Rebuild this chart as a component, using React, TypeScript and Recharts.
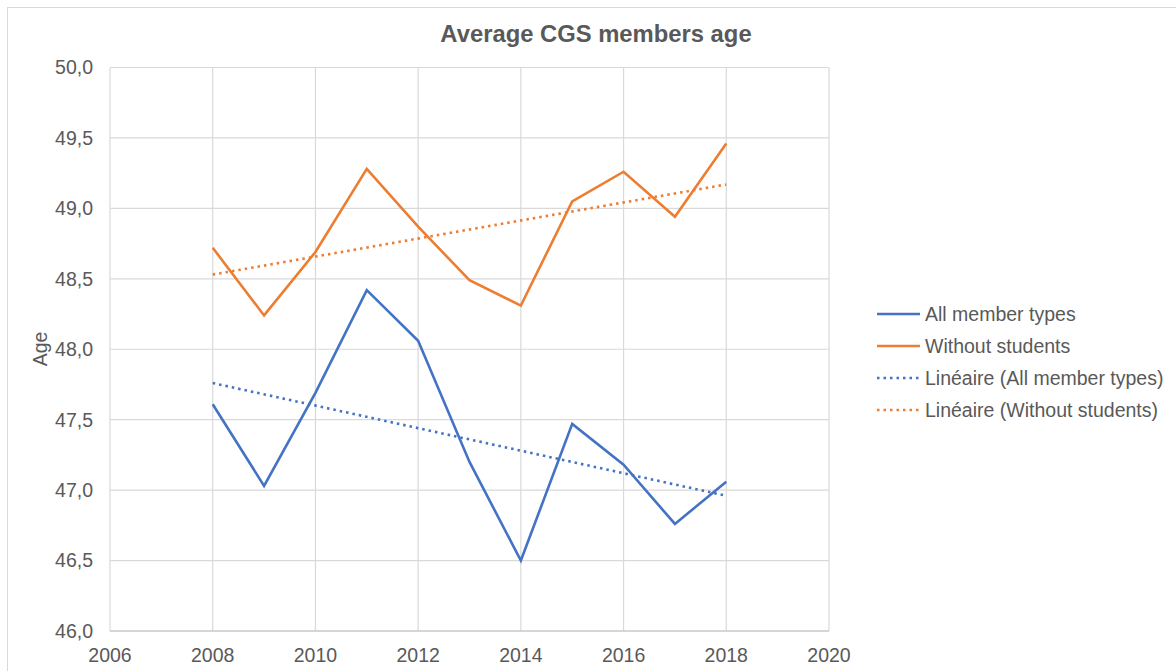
import React from 'react';
import { LineChart, Line, XAxis, YAxis, CartesianGrid, Legend, Label } from 'recharts';

const years = [2008, 2009, 2010, 2011, 2012, 2013, 2014, 2015, 2016, 2017, 2018];
const allMemberTypes = [47.61, 47.03, 47.69, 48.42, 48.06, 47.2, 46.5, 47.47, 47.18, 46.76, 47.06];
const withoutStudents = [48.72, 48.24, 48.69, 49.28, 48.87, 48.49, 48.31, 49.05, 49.26, 48.94, 49.46];
const trendYears = [2008, 2018];
const trendAll = [47.76, 46.96];
const trendWithout = [48.53, 49.17];
const xTicks = [2006, 2008, 2010, 2012, 2014, 2016, 2018, 2020];
const yTicks = [46, 46.5, 47, 47.5, 48, 48.5, 49, 49.5, 50];

const BLUE = '#4472C4';
const ORANGE = '#ED7D31';
const TEXT = '#595959';
const FONT = '"Liberation Sans", Arial, sans-serif';

const mainData = years.map((y, i) => ({ year: y, all: allMemberTypes[i], without: withoutStudents[i] }));
const trendAllData = trendYears.map((y, i) => ({ year: y, v: trendAll[i] }));
const trendWithoutData = trendYears.map((y, i) => ({ year: y, v: trendWithout[i] }));

const legendItems = [
  { label: 'All member types', color: BLUE, dotted: false },
  { label: 'Without students', color: ORANGE, dotted: false },
  { label: 'Linéaire (All member types)', color: BLUE, dotted: true },
  { label: 'Linéaire (Without students)', color: ORANGE, dotted: true },
];

const LegendContent = () => (
  <div style={{ fontFamily: FONT, fontSize: 19.5, color: TEXT }}>
    {legendItems.map((it) => (
      <div key={it.label} style={{ display: 'flex', alignItems: 'center', height: 32, whiteSpace: 'nowrap' }}>
        <svg width={49} height={10} style={{ flex: 'none' }}>
          <line
            x1={1}
            y1={5}
            x2={44}
            y2={5}
            stroke={it.color}
            strokeWidth={2.5}
            strokeDasharray={it.dotted ? '2.5 4' : undefined}
          />
        </svg>
        <span>{it.label}</span>
      </div>
    ))}
  </div>
);

const fmt = (v: number) => v.toFixed(1).replace('.', ',');

export default function App() {
  return (
    <div style={{ position: 'absolute', left: 0, top: 0, width: 1176, height: 671, background: '#fff', fontFamily: FONT }}>
      <div
        style={{
          position: 'absolute',
          left: 7,
          top: 7,
          width: 1176,
          height: 680,
          border: '1px solid #d9d9d9',
          boxSizing: 'border-box',
        }}
      />
      <div
        style={{
          position: 'absolute',
          left: 0,
          width: 1192,
          top: 22,
          textAlign: 'center',
          fontSize: 23.8,
          lineHeight: '24px',
          fontWeight: 'bold',
          color: TEXT,
          whiteSpace: 'nowrap',
        }}
      >
        Average CGS members age
      </div>
      <div style={{ position: 'absolute', left: 0, top: 0 }}>
        <LineChart width={1176} height={671} data={mainData} margin={{ top: 67.5, right: 47, bottom: 10, left: 0 }}>
          <CartesianGrid stroke="#d9d9d9" strokeWidth={1.2} verticalValues={xTicks} horizontalValues={yTicks} />
          <XAxis
            type="number"
            dataKey="year"
            domain={[2006, 2020]}
            ticks={xTicks}
            interval={0}
            height={30}
            tickLine={false}
            tickSize={0}
            tickMargin={17}
            axisLine={{ stroke: '#bfbfbf', strokeWidth: 1.2 }}
            tick={{ fill: TEXT, fontSize: 19.5, fontFamily: FONT }}
            allowDataOverflow
          />
          <YAxis
            type="number"
            domain={[46, 50]}
            ticks={yTicks}
            interval={0}
            width={110}
            tickLine={false}
            tickSize={0}
            tickMargin={17}
            axisLine={false}
            tickFormatter={fmt}
            tick={{ fill: TEXT, fontSize: 19.5, fontFamily: FONT }}
            allowDataOverflow
          >
            <Label
              content={() => (
                <text
                  x={47}
                  y={349}
                  transform="rotate(-90 47 349)"
                  textAnchor="middle"
                  fill={TEXT}
                  fontSize={19.5}
                  fontFamily={FONT}
                >
                  Age
                </text>
              )}
            />
          </YAxis>
          <Legend
            layout="vertical"
            align="right"
            verticalAlign="middle"
            content={LegendContent}
            wrapperStyle={{ position: 'absolute', left: 876, top: 298, width: 300, height: 128 }}
          />
          <Line
            dataKey="all"
            stroke={BLUE}
            strokeWidth={2.6}
            dot={false}
            activeDot={false}
            isAnimationActive={false}
          />
          <Line
            dataKey="without"
            stroke={ORANGE}
            strokeWidth={2.6}
            dot={false}
            activeDot={false}
            isAnimationActive={false}
          />
          <Line
            data={trendAllData}
            dataKey="v"
            stroke={BLUE}
            strokeWidth={2.6}
            strokeDasharray="2.5 4"
            dot={false}
            activeDot={false}
            legendType="none"
            isAnimationActive={false}
          />
          <Line
            data={trendWithoutData}
            dataKey="v"
            stroke={ORANGE}
            strokeWidth={2.6}
            strokeDasharray="2.5 4"
            dot={false}
            activeDot={false}
            legendType="none"
            isAnimationActive={false}
          />
        </LineChart>
      </div>
    </div>
  );
}
